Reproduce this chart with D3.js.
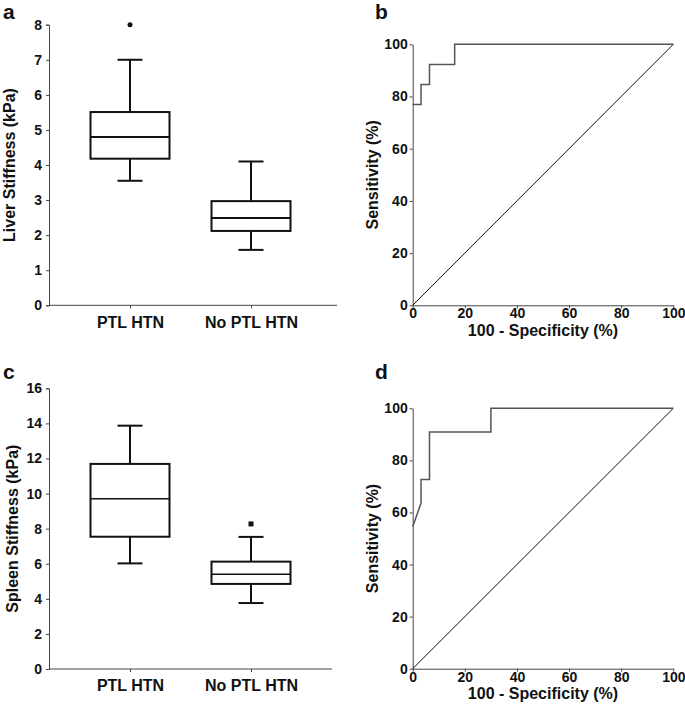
<!DOCTYPE html>
<html>
<head>
<meta charset="utf-8">
<script src="https://cdn.jsdelivr.net/npm/d3@7"></script>
<style>
  body { margin: 0; background: #fff; }
  svg { font-family: "Liberation Sans", Arial, sans-serif; font-weight: bold; }
</style>
</head>
<body>
<svg id="chart" width="685" height="709"></svg>
<script>
  // groups for the box plots
  const groups = ["PTL HTN", "No PTL HTN"];

  // [whiskerLow, q1, median, q3, whiskerHigh] per group
  const liverBox = [[3.55, 4.18, 4.80, 5.51, 7.0], [1.58, 2.12, 2.49, 2.97, 4.10]];
  const liverOutliers = [[8.0], []];
  const liverTicks = [0, 1, 2, 3, 4, 5, 6, 7, 8];

  const spleenBox = [[6.02, 7.54, 9.71, 11.69, 13.87], [3.76, 4.85, 5.40, 6.12, 7.53]];
  const spleenOutliers = [[], [8.27]];
  const spleenTicks = [0, 2, 4, 6, 8, 10, 12, 14, 16];

  // ROC curves: 100 - specificity (x) vs sensitivity (y)
  const rocLiverX = [0, 3.2, 3.2, 6.45, 6.45, 16.1, 16.1, 100];
  const rocLiverY = [76.9, 76.9, 84.6, 84.6, 92.3, 92.3, 100, 100];
  const rocSpleenX = [0, 3.2, 3.2, 6.45, 6.45, 30, 30, 100];
  const rocSpleenY = [54.5, 63.6, 72.7, 72.7, 90.9, 90.9, 100, 100];
  const rocTicks = [0, 20, 40, 60, 80, 100];

  const svg = d3.select("#chart");

  function panelLetter(txt, x, y) {
    svg.append("text").attr("x", x).attr("y", y)
      .attr("font-size", 21).attr("fill", "#111").text(txt);
  }

  function drawBoxPanel(opt) {
    const g = svg.append("g");
    const y = d3.scaleLinear().domain([0, d3.max(opt.ticks)]).range([opt.y0, opt.y1]);
    const x = d3.scalePoint().domain(groups)
      .range([opt.x0 + 81, opt.x0 + 202]);

    // axes
    const yAxis = g.append("g").attr("transform", `translate(${opt.x0},0)`)
      .call(d3.axisLeft(y).tickValues(opt.ticks).tickSize(3).tickPadding(4));
    const xAxis = g.append("g").attr("transform", `translate(0,${opt.y0})`)
      .call(d3.axisBottom(x).tickSize(3).tickPadding(8).tickSizeOuter(0));
    xAxis.select(".domain").attr("d", `M${opt.x0},0H${opt.x1}`);
    [yAxis, xAxis].forEach(a => {
      a.select(".domain").attr("stroke", "#444");
      a.selectAll(".tick line").attr("stroke", "#444");
      a.selectAll("text").attr("font-family", null).attr("fill", "#111");
    });
    yAxis.selectAll("text").attr("font-size", 14);
    xAxis.selectAll("text").attr("font-size", 16);

    g.append("text")
      .attr("transform", `translate(${opt.titleX},${(opt.y0 + opt.y1) / 2}) rotate(-90)`)
      .attr("text-anchor", "middle").attr("dy", "0.35em")
      .attr("font-size", 16).attr("fill", "#111").text(opt.title);

    const bw = 79, cw = 25;
    opt.data.forEach((s, i) => {
      const cx = x(groups[i]);
      const bg = g.append("g").attr("stroke", "#111").attr("stroke-width", 2).attr("fill", "none");
      bg.append("line").attr("x1", cx).attr("x2", cx).attr("y1", y(s[0])).attr("y2", y(s[1]));
      bg.append("line").attr("x1", cx).attr("x2", cx).attr("y1", y(s[3])).attr("y2", y(s[4]));
      bg.append("line").attr("x1", cx - cw / 2).attr("x2", cx + cw / 2).attr("y1", y(s[0])).attr("y2", y(s[0]));
      bg.append("line").attr("x1", cx - cw / 2).attr("x2", cx + cw / 2).attr("y1", y(s[4])).attr("y2", y(s[4]));
      bg.append("rect").attr("x", cx - bw / 2).attr("width", bw)
        .attr("y", y(s[3])).attr("height", y(s[1]) - y(s[3]));
      bg.append("line").attr("x1", cx - bw / 2).attr("x2", cx + bw / 2)
        .attr("y1", y(s[2])).attr("y2", y(s[2])).attr("stroke-width", opt.medianWidth);
      opt.outliers[i].forEach(v => {
        if (opt.square) {
          g.append("rect").attr("x", cx - 2.5).attr("y", y(v) - 2.5)
            .attr("width", 5).attr("height", 5).attr("fill", "#111");
        } else {
          g.append("circle").attr("cx", cx).attr("cy", y(v)).attr("r", 2.5).attr("fill", "#111");
        }
      });
    });
  }

  function drawRocPanel(opt) {
    const g = svg.append("g");
    const x = d3.scaleLinear().domain([0, 100]).range([opt.x0, opt.x1]);
    const y = d3.scaleLinear().domain([0, 100]).range([opt.y0, opt.y1]);

    const yAxis = g.append("g").attr("transform", `translate(${opt.x0},0)`)
      .call(d3.axisLeft(y).tickValues(rocTicks).tickSize(3).tickPadding(2).tickSizeOuter(0));
    const xAxis = g.append("g").attr("transform", `translate(0,${opt.y0})`)
      .call(d3.axisBottom(x).tickValues(rocTicks).tickSize(3).tickPadding(0).tickSizeOuter(0));
    [yAxis, xAxis].forEach(a => {
      a.select(".domain").attr("stroke", "#444");
      a.selectAll(".tick line").attr("stroke", "#444");
      a.selectAll("text").attr("font-family", null).attr("font-size", 14).attr("fill", "#111");
    });

    g.append("text")
      .attr("transform", `translate(${opt.x0 - 40},${(opt.y0 + opt.y1) / 2}) rotate(-90)`)
      .attr("text-anchor", "middle").attr("dy", "0.35em")
      .attr("font-size", 16).attr("fill", "#111").text("Sensitivity (%)");
    g.append("text")
      .attr("x", (opt.x0 + opt.x1) / 2).attr("y", opt.y0 + 25)
      .attr("text-anchor", "middle").attr("dy", "0.35em")
      .attr("font-size", 16).attr("fill", "#111").text("100 - Specificity (%)");

    // reference diagonal
    g.append("line").attr("x1", x(0)).attr("y1", y(0)).attr("x2", x(100)).attr("y2", y(100))
      .attr("stroke", "#111").attr("stroke-width", 1);

    const line = d3.line().x(d => x(d[0])).y(d => y(d[1]));
    g.append("path").datum(d3.zip(opt.xs, opt.ys))
      .attr("d", line).attr("fill", "none")
      .attr("stroke", "#555").attr("stroke-width", 1.5);
  }

  drawBoxPanel({ x0: 49, x1: 337, y0: 305.3, y1: 24.7, ticks: liverTicks, data: liverBox,
    outliers: liverOutliers, title: "Liver Stiffness (kPa)", titleX: 9, medianWidth: 2, square: false });
  drawBoxPanel({ x0: 49, x1: 332, y0: 669, y1: 388.3, ticks: spleenTicks, data: spleenBox,
    outliers: spleenOutliers, title: "Spleen Stiffness (kPa)", titleX: 12, medianWidth: 1.5, square: true });

  drawRocPanel({ x0: 412.7, x1: 673.3, y0: 305.3, y1: 44.3, xs: rocLiverX, ys: rocLiverY });
  drawRocPanel({ x0: 412.7, x1: 673.3, y0: 668.7, y1: 408.3, xs: rocSpleenX, ys: rocSpleenY });

  panelLetter("a", 3, 19);
  panelLetter("b", 375, 19);
  panelLetter("c", 3, 379);
  panelLetter("d", 375, 379);
</script>
</body>
</html>
